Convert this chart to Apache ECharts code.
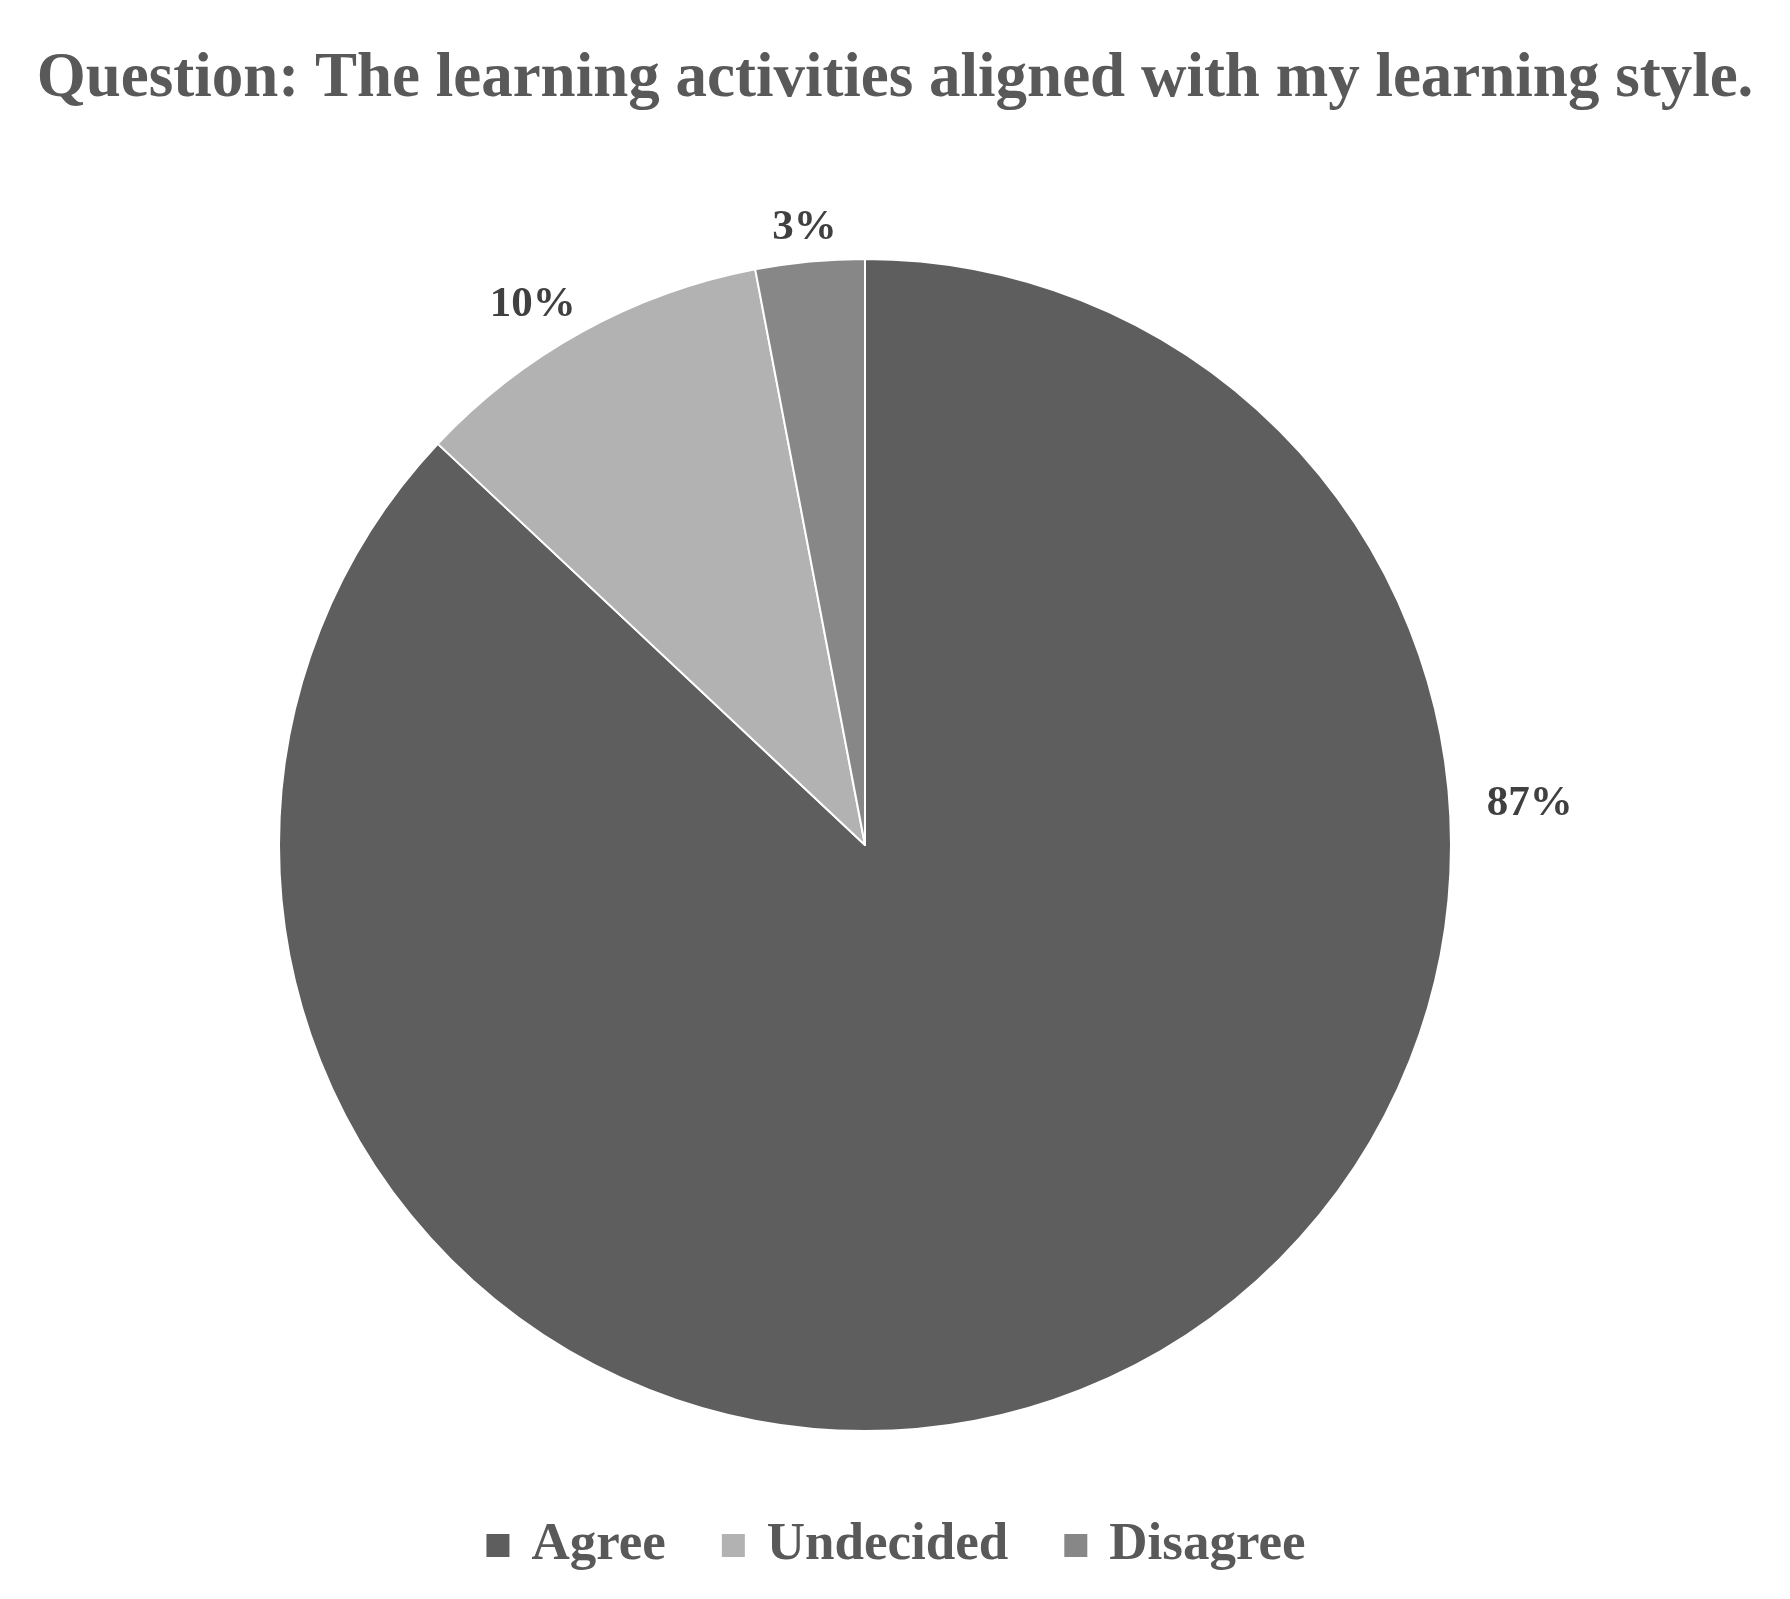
<!DOCTYPE html>
<html>
<head>
<meta charset="utf-8">
<script src="https://cdn.jsdelivr.net/npm/echarts@6/dist/echarts.min.js"></script>
<style>
  html, body { margin: 0; padding: 0; background: #fff; }
  #chart { width: 1790px; height: 1599px; }
</style>
</head>
<body>
<div id="chart"></div>
<script>
// data
var titleText = 'Question: The learning activities aligned with my learning style.';
var categories = ['Agree', 'Undecided', 'Disagree'];
var values = [87, 10, 3];
var colors = ['#5e5e5e', '#b2b2b2', '#878787'];

var cx = 865, cy = 845, r = 586;
// where Excel put each label (degrees clockwise from 12 o'clock, distance past the rim)
var labelAngle = [86.5, -31.6, -5.6];
var labelGap = [80, 48, 34];

var chart = echarts.init(document.getElementById('chart'));

var option = {
    backgroundColor: '#ffffff',
    title: {
        text: titleText,
        left: 'center',
        top: 43,
        textStyle: {
            fontFamily: 'Liberation Serif',
            fontSize: 63,
            fontWeight: 'bold',
            color: '#595959'
        }
    },
    legend: {
        bottom: 22,
        left: 'center',
        itemWidth: 25,
        itemHeight: 25,
        itemGap: 54,
        icon: 'rect',
        textStyle: {
            fontFamily: 'Liberation Serif',
            fontSize: 53,
            fontWeight: 'bold',
            color: '#595959',
            padding: [0, 0, 0, 16]
        },
        data: categories
    },
    series: [{
        type: 'pie',
        center: [cx, cy],
        radius: r,
        startAngle: 90,
        clockwise: true,
        avoidLabelOverlap: false,
        itemStyle: {
            borderColor: '#ffffff',
            borderWidth: 2
        },
        label: {
            show: true,
            position: 'outside',
            formatter: '{c}%',
            fontFamily: 'Liberation Serif',
            fontSize: 43,
            fontWeight: 'bold',
            color: '#404040'
        },
        labelLine: { show: false },
        labelLayout: function (params) {
            var i = params.dataIndex;
            var a = labelAngle[i] * Math.PI / 180;
            var d = r + labelGap[i];
            return {
                x: cx + d * Math.sin(a),
                y: cy - d * Math.cos(a),
                align: 'center',
                verticalAlign: 'middle'
            };
        },
        emphasis: { disabled: true },
        data: categories.map(function (c, i) {
            return { name: c, value: values[i], itemStyle: { color: colors[i] } };
        })
    }]
};

chart.setOption(option);
</script>
</body>
</html>
